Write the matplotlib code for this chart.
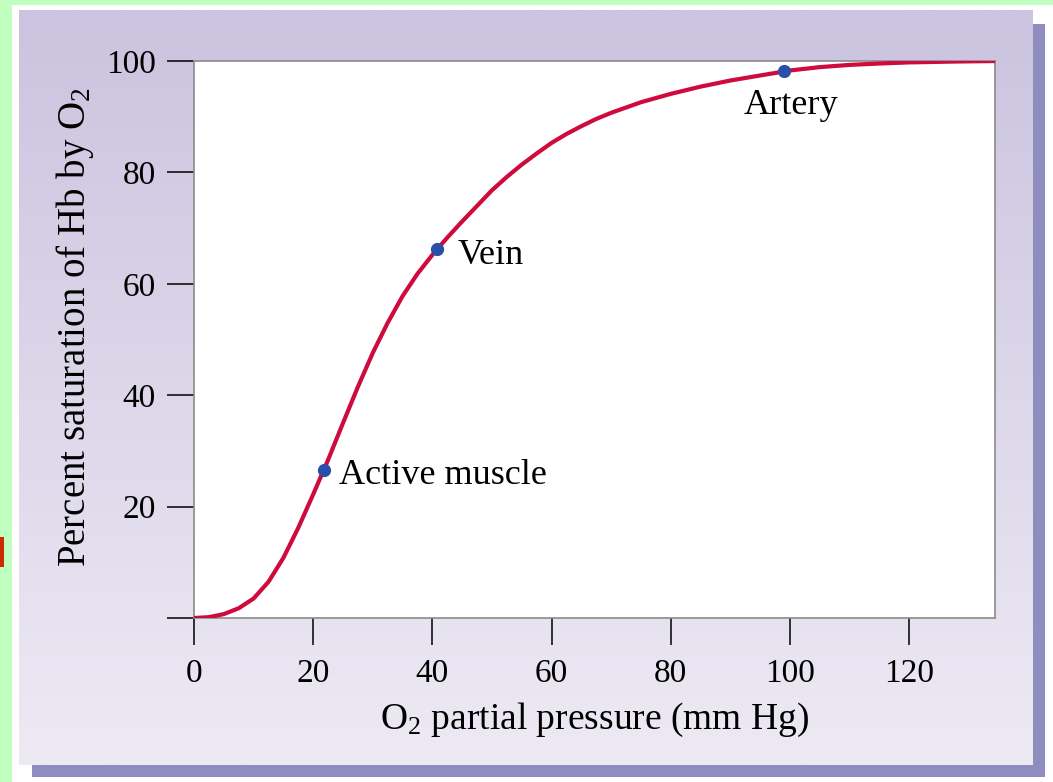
import numpy as np
import matplotlib
matplotlib.use("Agg")
import matplotlib.pyplot as plt
from matplotlib.patches import Rectangle

plt.rcParams['font.family'] = ['Liberation Serif', 'DejaVu Serif']
plt.rcParams['mathtext.fontset'] = 'custom'
plt.rcParams['mathtext.rm'] = 'Liberation Serif'
plt.rcParams['mathtext.it'] = 'Liberation Serif:italic'

# O2 dissociation curve
po2 = [0, 2.5, 5, 7.5, 10, 12.5, 15, 17.5, 20, 22.5, 25, 27.5, 30, 32.5, 35,
       37.5, 40, 42.5, 45, 47.5, 50, 52.5, 55, 57.5, 60, 62.5, 65, 67.5, 70,
       75, 80, 85, 90, 95, 100, 105, 110, 115, 120, 127.5, 135]
sat = [0, 0.15, 0.7, 1.75, 3.5, 6.5, 10.8, 16.2, 22.2, 28.4, 35.0, 41.5, 47.6,
       53.0, 57.8, 61.8, 65.2, 68.3, 71.2, 74.0, 76.8, 79.2, 81.4, 83.4, 85.3,
       86.9, 88.3, 89.6, 90.7, 92.6, 94.1, 95.4, 96.5, 97.4, 98.3, 98.9, 99.3,
       99.55, 99.75, 99.9, 100.0]

pt_names = ["Active muscle", "Vein", "Artery"]
pt_x = [21.8, 40.8, 99.0]
pt_y = [26.6, 66.2, 98.2]

x_ticks = [0, 20, 40, 60, 80, 100, 120]
y_ticks = [0, 20, 40, 60, 80, 100]
y_ticklabels = ["", "20", "40", "60", "80", "100"]

W, H = 1053, 782
fig = plt.figure(figsize=(W / 100, H / 100), dpi=100, facecolor='#c0ffc0')

def fx(px):
    return px / W

def fy(py):
    return 1 - py / H

# white backdrop, shadow and gradient panel
fig.patches.append(Rectangle((fx(12), 0), 1, fy(5), transform=fig.transFigure,
                             facecolor='white', edgecolor='none', zorder=-5))
fig.patches.append(Rectangle((fx(32), fy(777)), fx(1045 - 32), (777 - 24) / H,
                             transform=fig.transFigure, facecolor='#8d8dc0',
                             edgecolor='none', zorder=-4))
# sliver of a red letter at the left edge of the slide
fig.patches.append(Rectangle((0, fy(567)), fx(3.5), 30 / H,
                             transform=fig.transFigure, facecolor='#cc2a00',
                             edgecolor='none', zorder=-4))
bg = fig.add_axes([fx(19), fy(765), fx(1033 - 19), (765 - 10) / H], zorder=-1)
top = np.array([0xcb, 0xc3, 0xdf]) / 255
bot = np.array([0xed, 0xea, 0xf4]) / 255
t = np.linspace(0, 1, 256)[:, None]
grad = top[None, :] * (1 - t) + bot[None, :] * t
bg.imshow(grad[:, None, :], aspect='auto', extent=[0, 1, 0, 1])
bg.set_axis_off()

ax = fig.add_axes([fx(194), fy(618), fx(995 - 194), (618 - 61) / H])
ax.set_facecolor('white')
ax.plot(po2, sat, color='#cf0a3c', lw=3.0, solid_capstyle='butt',
        solid_joinstyle='round', zorder=3)
ax.plot(pt_x, pt_y, 'o', color='#2a4fa8', ms=8.5, zorder=4)

ax.text(24.3, 25.6, pt_names[0], fontsize=26, va='center', ha='left')
ax.text(44.3, 65.1, pt_names[1], fontsize=26, va='center', ha='left')
ax.text(100.2, 92.0, pt_names[2], fontsize=26, va='center', ha='center')

ax.set_xlim(0, 134.4)
ax.set_ylim(0, 100)
ax.set_xticks(x_ticks)
ax.set_yticks(y_ticks)
ax.set_yticklabels(y_ticklabels)
ax.tick_params(direction='out', length=19.5, width=1.1, color='black',
               labelsize=24, pad=8)
ax.tick_params(axis='x', pad=10)
for s in ax.spines.values():
    s.set_color('#8a8a8a')
    s.set_linewidth(1.2)

ax.set_xlabel(r"O$_2$ partial pressure (mm Hg)", fontsize=27, labelpad=8)
ax.set_ylabel(r"Percent saturation of Hb by O$_2$", fontsize=28)
ax.yaxis.set_label_coords(-0.122, 0.522)

fig.savefig("out.png", dpi=100, facecolor=fig.get_facecolor())
